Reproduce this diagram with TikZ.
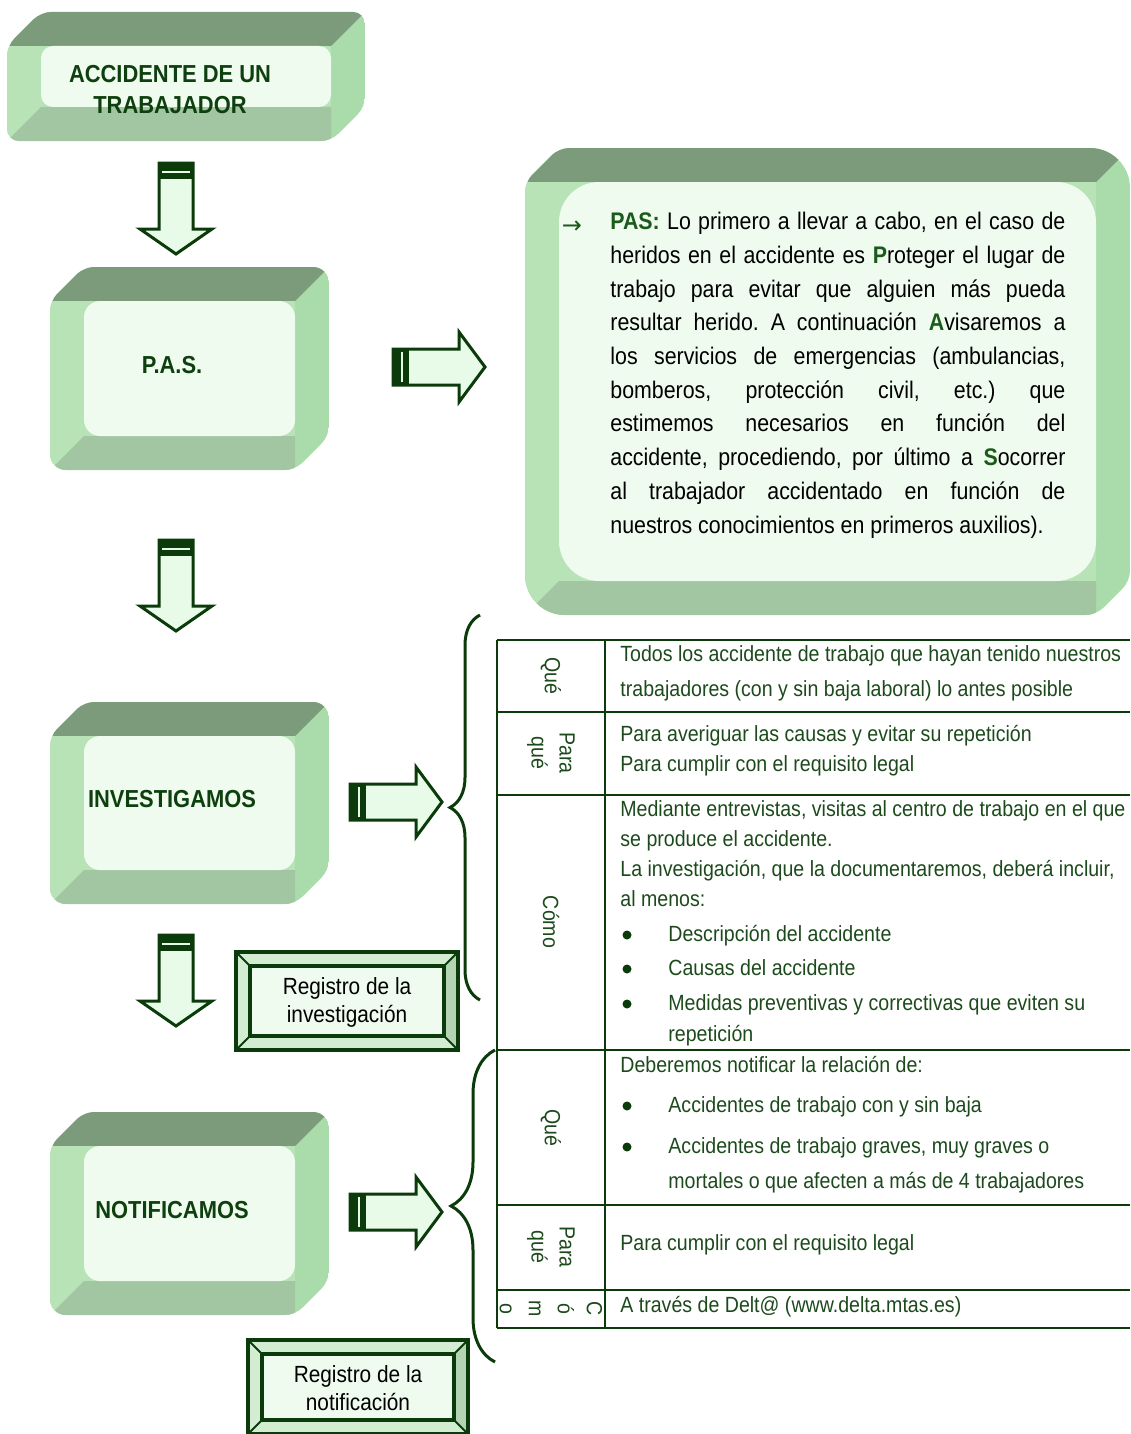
\documentclass[tikz,border=0pt]{standalone}
\usepackage{fontspec}
\setmainfont{Liberation Sans}[FakeStretch=0.89]
\newfontfamily\arrowfont{DejaVu Sans}
\usepackage{xcolor}
\usepackage{tikz}
\usetikzlibrary{positioning, decorations.pathreplacing}

\definecolor{linegreen}{HTML}{0B3B0B}
\definecolor{textgreen}{HTML}{1C4A1C}
\definecolor{labelgreen}{HTML}{0E3F0E}
\definecolor{pasgreen}{HTML}{1A5A1A}
\definecolor{topface}{HTML}{7B9B7B}
\definecolor{sideface}{HTML}{AADBAA}
\definecolor{leftface}{HTML}{B7E3B7}
\definecolor{bottomface}{HTML}{A2C5A2}
\definecolor{frontface}{HTML}{EEFBEE}
\definecolor{arrowfill}{HTML}{E8FAE8}
\definecolor{framestrip}{HTML}{D2EDD2}
\definecolor{framedark}{HTML}{B4D4B4}

% left, top, right, bottom, depth, corner radius
\newcommand{\cubebox}[6]{
  \begin{scope}
    \clip[rounded corners=5pt] (#1+#5,#2) [rounded corners=#6] -- (#3,#2) [rounded corners=5pt] -- (#3,#4-#5) -- (#3-#5,#4) [rounded corners=#6] -- (#1,#4) [rounded corners=5pt] -- (#1,#2+#5) -- cycle;
    \fill[sideface] (#1,#2) rectangle (#3,#4);
    \fill[topface] (#1,#2+#5) -- (#1+#5,#2) -- (#3,#2) -- (#3-#5,#2+#5) -- cycle;
    \fill[leftface] (#1,#2+#5) rectangle (#3-#5,#4);
    \fill[bottomface] (#1+#5,#4-#5) -- (#3-#5,#4-#5) -- (#3-#5,#4) -- (#1,#4) -- cycle;
    \fill[frontface, rounded corners=#6] (#1+#5,#2+#5) rectangle (#3-#5,#4-#5);
  \end{scope}
}

\newcommand{\downblock}[2]{
  \filldraw[blockarrow] (#1+19,#2) -- (#1+53,#2) -- (#1+53,#2+66) -- (#1+72,#2+66) -- (#1+36,#2+91) -- (#1,#2+66) -- (#1+19,#2+66) -- cycle;
  \fill[linegreen] (#1+19,#2) rectangle (#1+53,#2+16);
  \draw[arrowfill, line width=0.8pt] (#1+22,#2+9) -- (#1+50,#2+9);
}

\newcommand{\rightblock}[2]{
  \filldraw[blockarrow] (#1,#2+17) -- (#1+66,#2+17) -- (#1+66,#2) -- (#1+92,#2+35) -- (#1+66,#2+70) -- (#1+66,#2+53) -- (#1,#2+53) -- cycle;
  \fill[linegreen] (#1,#2+17) rectangle (#1+16,#2+53);
  \draw[arrowfill, line width=0.8pt] (#1+9,#2+20) -- (#1+9,#2+50);
}

\newcommand{\regframe}[4]{
  \fill[framestrip] (#1,#2) rectangle (#3,#4);
  \fill[framedark] (#3,#2) -- (#3,#4) -- (#3-14,#4-14) -- (#3-14,#2+14) -- cycle;
  \fill[frontface] (#1+14,#2+14) rectangle (#3-14,#4-14);
  \draw[linegreen, line width=1pt] (#1,#2) -- (#1+14,#2+14) (#3,#2) -- (#3-14,#2+14) (#3,#4) -- (#3-14,#4-14) (#1,#4) -- (#1+14,#4-14);
  \draw[linegreen, line width=1.6pt] (#1,#2) rectangle (#3,#4);
  \draw[linegreen, line width=1.6pt] (#1+14,#2+14) rectangle (#3-14,#4-14);
}

\newcommand{\pasletter}[1]{\textcolor{pasgreen}{\textbf{#1}}}

\begin{document}
\frenchspacing
\begin{tikzpicture}[
    x=0.5pt, y=-0.5pt,
    blockarrow/.style={
        draw=linegreen,
        fill=arrowfill,
        line width=1.5pt
    },
    boxlabel/.style={
        text=labelgreen,
        align=center,
        inner sep=0pt,
        font=\bfseries\fontsize{12.3}{15.5}\selectfont
    },
    celltext/.style={
        anchor=base west,
        inner sep=0pt,
        text=textgreen,
        font=\fontsize{11}{13}\selectfont
    },
    sidelabel/.style={
        rotate=-90,
        align=center,
        inner sep=0pt,
        text=textgreen,
        font=\fontsize{11}{14}\selectfont
    },
    reglabel/.style={
        align=center,
        inner sep=0pt,
        font=\fontsize{11.7}{14}\selectfont
    },
    tabline/.style={draw=linegreen, line width=1.25pt},
    bracket/.style={draw=linegreen, line width=1.5pt, decorate}
]
\useasboundingbox (0,0) rectangle (1130,1434);

\cubebox{7}{12}{365}{141}{34}{6pt}
\cubebox{50}{267}{329}{470}{34}{8pt}
\cubebox{50}{702}{329}{904}{34}{8pt}
\cubebox{50}{1112}{329}{1315}{34}{8pt}
\cubebox{525}{148}{1130}{615}{34}{20pt}

\node[boxlabel] (accidente) at (170,90) {ACCIDENTE DE UN\\TRABAJADOR};
\node[boxlabel] (pas) at (172,365) {P.A.S.};
\node[boxlabel] (investiga) at (172,799) {INVESTIGAMOS};
\node[boxlabel] (notifica) at (172,1210) {NOTIFICAMOS};

\downblock{140}{163}
\downblock{140}{540}
\downblock{140}{935}
\rightblock{393}{332}
\rightblock{350}{767}
\rightblock{350}{1177}

\node[text=pasgreen, inner sep=0pt, font=\arrowfont\fontsize{12}{14}\selectfont] (bullet) at (572,227) {→};
\node[anchor=north west, inner sep=0pt, text width=227.5pt, align=justify,
      font=\fontsize{12}{16.85}\selectfont] (nota) at (610,212)
  {\hyphenpenalty=10000\exhyphenpenalty=10000
   \pasletter{PAS:} Lo primero a llevar a cabo, en el caso de\linebreak
   heridos en el accidente es \pasletter{P}roteger el lugar de\linebreak
   trabajo para evitar que alguien más pueda\linebreak
   resultar herido. A continuación \pasletter{A}visaremos a\linebreak
   los servicios de emergencias (ambulancias,\linebreak
   bomberos, protección civil, etc.) que\linebreak
   estimemos necesarios en función del\linebreak
   accidente, procediendo, por último a \pasletter{S}ocorrer\linebreak
   al trabajador accidentado en función de\linebreak
   nuestros conocimientos en primeros auxilios).};

\regframe{236}{952}{458}{1050}
\regframe{248}{1340}{468}{1434}
\node[reglabel] (reginv) at (347,1002) {Registro de la\\investigación};
\node[reglabel] (regnot) at (358,1388) {Registro de la\\notificación};

\coordinate (brace1top) at (480,615);
\coordinate (brace1bot) at (480,1000);
\coordinate (brace2top) at (495,1050);
\coordinate (brace2bot) at (495,1362);
\draw[bracket, decoration={brace, amplitude=15pt}] (brace1bot) -- (brace1top);
\draw[bracket, decoration={brace, amplitude=22pt}] (brace2bot) -- (brace2top);

\draw[tabline] (497,640) -- (1130,640);
\draw[tabline] (497,712) -- (1130,712);
\draw[tabline] (497,795) -- (1130,795);
\draw[tabline] (497,1050) -- (1130,1050);
\draw[tabline] (497,1205) -- (1130,1205);
\draw[tabline] (497,1290) -- (1130,1290);
\draw[tabline] (497,1328) -- (1130,1328);
\draw[tabline] (497,640) -- (497,1328);
\draw[tabline] (605,640) -- (605,1328);

\node[sidelabel] (que1) at (551,676) {Qué};
\node[sidelabel] (para1) at (551,753) {Para\\qué};
\node[sidelabel] (como1) at (551,922) {Cómo};
\node[sidelabel] (que2) at (551,1128) {Qué};
\node[sidelabel] (para2) at (551,1247) {Para\\qué};
\node[sidelabel, font=\fontsize{11}{14.5}\selectfont] (como2) at (551,1309) {C\\ó\\m\\o};

\node[celltext] (todos) at (620,661) {Todos los accidente de trabajo que hayan tenido nuestros};
\node[celltext] (todos2) at (620,696) {trabajadores (con y sin baja laboral) lo antes posible};
\node[celltext] (causas) at (620,741) {Para averiguar las causas y evitar su repetición};
\node[celltext] (legal1) at (620,771) {Para cumplir con el requisito legal};
\node[celltext] (mediante) at (620,816) {Mediante entrevistas, visitas al centro de trabajo en el que};
\node[celltext] (mediante2) at (620,846) {se produce el accidente.};
\node[celltext] (incluir) at (620,876) {La investigación, que la documentaremos, deberá incluir,};
\node[celltext] (incluir2) at (620,906) {al menos:};
\node[celltext] (item1) at (668,941) {Descripción del accidente};
\node[celltext] (item2) at (668,975) {Causas del accidente};
\node[celltext] (item3) at (668,1010) {Medidas preventivas y correctivas que eviten su};
\node[celltext] (item3b) at (668,1041) {repetición};
\node[celltext] (deberemos) at (620,1072) {Deberemos notificar la relación de:};
\node[celltext] (item4) at (668,1112) {Accidentes de trabajo con y sin baja};
\node[celltext] (item5) at (668,1153) {Accidentes de trabajo graves, muy graves o};
\node[celltext] (item5b) at (668,1188) {mortales o que afecten a más de 4 trabajadores};
\node[celltext] (legal2) at (620,1250) {Para cumplir con el requisito legal};
\node[celltext] (delta) at (620,1312) {A través de Delt@ (www.delta.mtas.es)};

\fill[linegreen] (627,935) circle (4.5);
\fill[linegreen] (627,969) circle (4.5);
\fill[linegreen] (627,1004) circle (4.5);
\fill[linegreen] (627,1106) circle (4.5);
\fill[linegreen] (627,1147) circle (4.5);

\end{tikzpicture}
\end{document}
